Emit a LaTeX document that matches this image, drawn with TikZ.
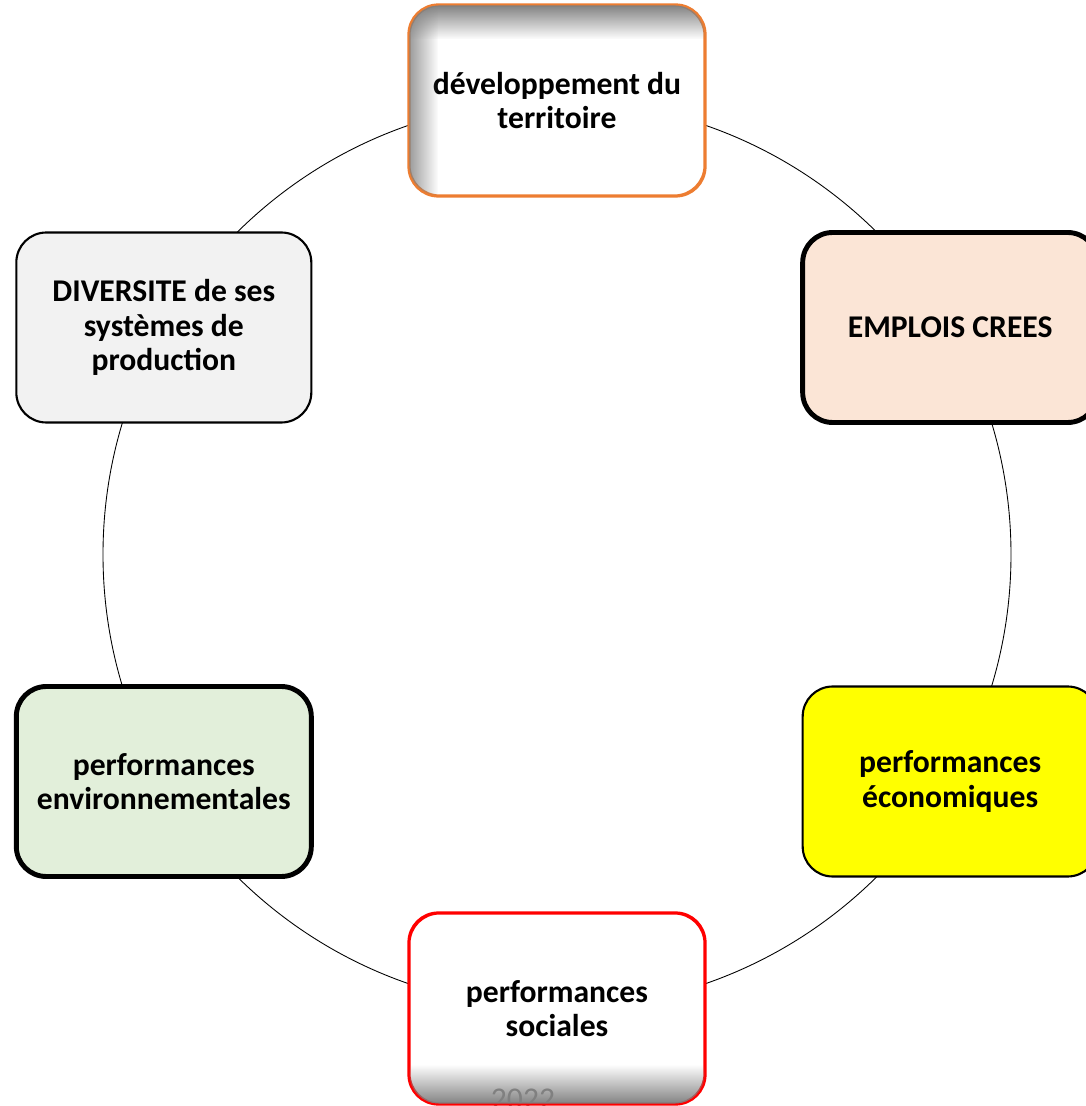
\documentclass[tikz,border=0pt]{standalone}
\usepackage{fontspec}
\setmainfont{Carlito}
\usepackage{tikz}
\usetikzlibrary{fadings}
\usetikzlibrary{calc}

\definecolor{orangeppt}{HTML}{ED7D31}
\definecolor{peche}{HTML}{FBE5D6}
\definecolor{vertpale}{HTML}{E2EFDA}
\definecolor{grispale}{HTML}{F2F2F2}
\definecolor{jaune}{HTML}{FFFF00}

\tikzset{
  bloc/.style={rounded corners=0.6cm, minimum width=5.9cm, minimum height=3.8cm,
    align=center, font=\fontsize{18}{19.5}\selectfont\bfseries},
  fin/.style={line width=1.2pt},
  epais/.style={line width=2.8pt},
  ombre/.style={black!50}
}

\begin{document}
\begin{tikzpicture}
\useasboundingbox (-11.14,-11.03) rectangle (10.58,11.09);

\coordinate (c) at (0,0);
\draw [line width=0.5pt] (c) circle (9.08);

\node [bloc, fin, draw=orangeppt, fill=white] (dev) at (90:9.08) {développement du\\territoire};
\node [bloc, epais, draw=black, fill=peche] (emp) at (30:9.08) {EMPLOIS CREES};
\node [bloc, fin, draw=black, fill=jaune] (eco) at (-30:9.08) {performances\\économiques};
\node [bloc, fin, draw=red, fill=white] (soc) at (-90:9.08) {performances\\sociales};
\node [bloc, epais, draw=black, fill=vertpale] (env) at (-150:9.08) {performances\\environnementales};
\node [bloc, fin, draw=black, fill=grispale] (div) at (150:9.08) {DIVERSITE de ses\\systèmes de\\production};

% % % % % % % % % % % % % % % % % % % % % % % % % %

% ombre interieure en haut et a gauche
\begin{scope}
\clip [rounded corners=0.6cm] (dev.south west) rectangle (dev.north east);
\fill [ombre, path fading=south] (dev.north west) rectangle ($(dev.north east)+(0,-0.7)$);
\fill [ombre, opacity=0.8, path fading=east] (dev.north west) rectangle ($(dev.south west)+(0.6,0)$);
\end{scope}
\draw [fin, draw=orangeppt, rounded corners=0.6cm] (dev.south west) rectangle (dev.north east);

\node [anchor=base, text=black!50, font=\fontsize{18}{19.5}\selectfont] (annee) at (-0.68,-11.09) {2022};

% ombre interieure en bas
\begin{scope}
\clip [rounded corners=0.6cm] (soc.south west) rectangle (soc.north east);
\fill [ombre, path fading=north] ($(soc.south west)+(0,0.8)$) rectangle (soc.south east);
\end{scope}
\draw [fin, draw=red, rounded corners=0.6cm] (soc.south west) rectangle (soc.north east);
\end{tikzpicture}
\end{document}
